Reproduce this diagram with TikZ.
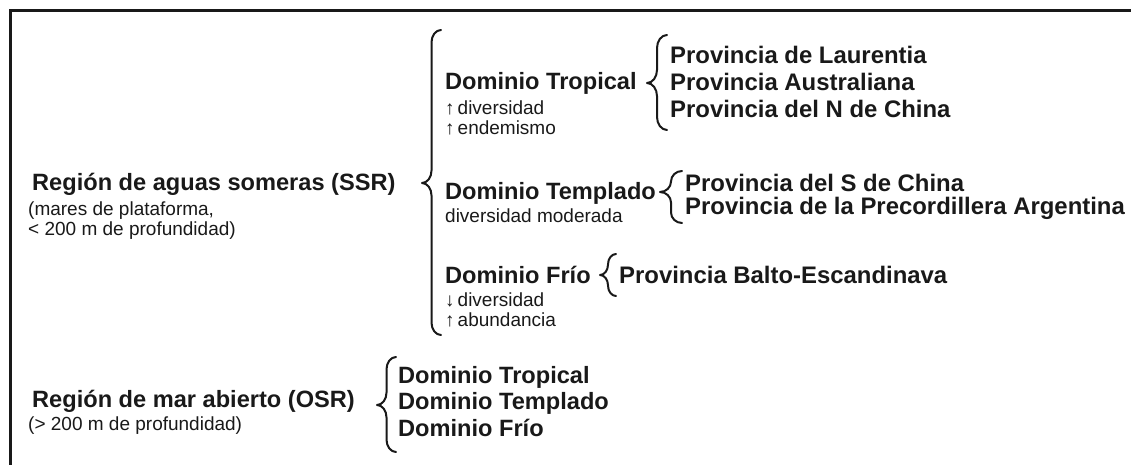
\documentclass[tikz,border=0pt]{standalone}
\usepackage{fontspec}
\setmainfont{Liberation Sans}
\definecolor{ink}{RGB}{25,25,25}
\newcommand\curlybrace[5]{% #1 hook x, #2 tip x, #3 top y, #4 tip y, #5 bottom y
  \pgfmathsetmacro\bxv{(#1+#2)/2}%
  \pgfmathsetmacro\bw{(#1-#2)/2}%
  \pgfmathsetmacro\br{min(1.3*\bw,(#4-#3)/2,(#5-#4)/2)}%
  \draw[bracestyle] (#1,#3)
    .. controls (#1-0.55*\bw,#3) and (\bxv,#3+0.45*\br) .. (\bxv,#3+\br)
    -- (\bxv,#4-\br)
    .. controls (\bxv,#4-0.45*\br) and (#2+0.55*\bw,#4) .. (#2,#4)
    .. controls (#2+0.55*\bw,#4) and (\bxv,#4+0.45*\br) .. (\bxv,#4+\br)
    -- (\bxv,#5-\br)
    .. controls (\bxv,#5-0.45*\br) and (#1-0.55*\bw,#5) .. (#1,#5);%
}
\newcommand\upar{↑\kern3pt}
\newcommand\downar{↓\kern3pt}
\tikzset{
  boldtxt/.style={anchor=base west, inner sep=0pt, text=ink,
    font=\fontsize{23.6}{28}\selectfont\bfseries},
  provtxt/.style={anchor=base west, inner sep=0pt, text=ink,
    font=\fontsize{23.9}{28}\selectfont\bfseries},
  smalltxt/.style={anchor=base west, inner sep=0pt, text=ink,
    font=\fontsize{19}{22}\selectfont},
  bracestyle/.style={draw=ink, line width=2pt, line cap=round, line join=round},
  framestyle/.style={draw=ink, line width=3pt}
}
\begin{document}
\begin{tikzpicture}[x=1pt,y=-1pt]
\useasboundingbox (0,0) rectangle (1131,465);
% frame (top and left edges)
\coordinate (fcorner) at (10,10.5);
\coordinate (fright) at (1131,10.5);
\coordinate (fbottom) at (10,465);
\draw[framestyle] (fbottom) -- (fcorner) -- (fright);

% shallow sea region
\node[boldtxt] (ssr) at (32,190) {Región de aguas someras (SSR)};
\node[smalltxt] (ssra) at (28,215) {(mares de plataforma,};
\node[smalltxt] (ssrb) at (28,235) {< 200 m de profundidad)};
\curlybrace{441}{422}{30}{183}{335}

% tropical domain
\node[boldtxt] (dtro) at (445,90) {Dominio Tropical};
\node[smalltxt] (dtroa) at (445,115) {\upar diversidad};
\node[smalltxt] (dtrob) at (445,135) {\upar endemismo};
\curlybrace{667}{647}{35}{83}{130}
\node[provtxt] (plau) at (670,64) {Provincia de Laurentia};
\node[provtxt] (paus) at (670,91) {Provincia Australiana};
\node[provtxt] (pnch) at (670,118) {Provincia del N de China};

% temperate domain
\node[boldtxt] (dtem) at (445,199) {Dominio Templado};
\node[smalltxt] (dtema) at (445,222) {diversidad moderada};
\curlybrace{682}{660}{171}{192}{223}
\node[provtxt] (psch) at (685,191) {Provincia del S de China};
\node[provtxt] (ppre) at (685,214) {Provincia de la Precordillera Argentina};

% cold domain
\node[boldtxt] (dfri) at (445,283) {Dominio Frío};
\node[smalltxt] (dfria) at (445,306) {\downar diversidad};
\node[smalltxt] (dfrib) at (445,326) {\upar abundancia};
\curlybrace{616}{600}{254}{275}{296}
\node[provtxt] (pbal) at (619,283) {Provincia Balto-Escandinava};

% open sea region
\node[boldtxt] (osr) at (32,407) {Región de mar abierto (OSR)};
\node[smalltxt] (osra) at (28,430) {(> 200 m de profundidad)};
\curlybrace{396}{377}{357}{405}{452}
\node[boldtxt] (otro) at (398,383) {Dominio Tropical};
\node[boldtxt] (otem) at (398,409) {Dominio Templado};
\node[boldtxt] (ofri) at (398,436) {Dominio Frío};
\end{tikzpicture}
\end{document}
